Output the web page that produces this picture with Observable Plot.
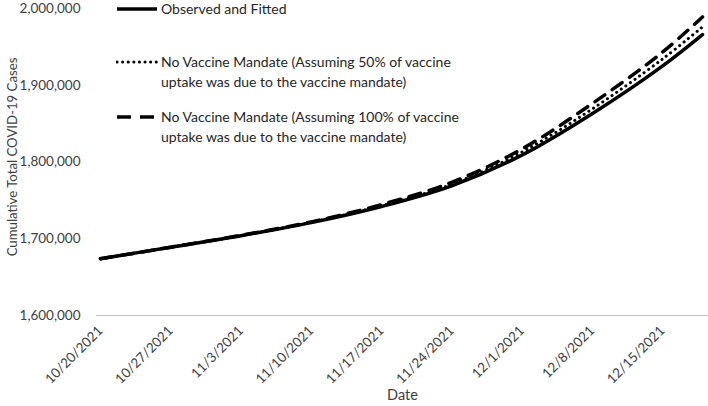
<!DOCTYPE html>
<html>
<head>
<meta charset="utf-8">
<script src="https://cdn.jsdelivr.net/npm/d3@7"></script>
<script src="https://cdn.jsdelivr.net/npm/@observablehq/plot@0.6"></script>
<style>
  html, body { margin: 0; padding: 0; background: #fff; }
  #wrap { position: relative; width: 708px; height: 406px; font-family: Lato, "Open Sans", sans-serif; }
  #legend { position: absolute; left: 116px; top: 0px; font-size: 14px; color: #262626; line-height: 20px; }
  .item { position: absolute; left: 0; display: flex; align-items: flex-start; white-space: nowrap; }
  .item svg { flex: none; margin-right: 3px; }
  #ylabel { position: absolute; left: 12px; top: 157px; transform: translate(-50%, -50%) rotate(-90deg); white-space: nowrap; font-size: 13.2px; color: #404040; }
</style>
</head>
<body>
<div id="wrap"><div id="legend"></div><div id="ylabel"></div></div>
<script>
// Data
const dates = ["2021-10-20","2021-10-27","2021-11-03","2021-11-10","2021-11-17","2021-11-24","2021-12-01","2021-12-08","2021-12-15","2021-12-19"];
const observed     = [1674000,1689000,1704000,1721000,1742000,1769000,1809000,1863000,1925000,1966000];
const noMandate50  = [1674000,1689000,1704000,1721500,1743000,1771000,1813000,1869000,1934000,1976000];
const noMandate100 = [1674000,1689000,1704500,1722000,1744500,1773500,1817000,1876000,1943000,1989000];
const seriesNames = [
  "Observed and Fitted",
  "No Vaccine Mandate (Assuming 50% of vaccine uptake was due to the vaccine mandate)",
  "No Vaccine Mandate (Assuming 100% of vaccine uptake was due to the vaccine mandate)"
];
const xTicks = ["2021-10-20","2021-10-27","2021-11-03","2021-11-10","2021-11-17","2021-11-24","2021-12-01","2021-12-08","2021-12-15"];
const yTicks = [1600000,1700000,1800000,1900000,2000000];
const yTitle = "Cumulative Total COVID-19 Cases";
const xTitle = "Date";

const parse = d3.utcParse("%Y-%m-%d");
const rows = (vals, s) => dates.map((d, i) => ({date: parse(d), value: vals[i], series: s}));
const obs = rows(observed, seriesNames[0]);
const m50 = rows(noMandate50, seriesNames[1]);
const m100 = rows(noMandate100, seriesNames[2]);

const chart = Plot.plot({
  width: 708,
  height: 406,
  marginLeft: 96,
  marginRight: 0,
  marginTop: 8,
  marginBottom: 91,
  style: {fontFamily: "Lato, 'Open Sans', sans-serif", fontSize: "13.5px", color: "#404040", background: "#fff", overflow: "visible"},
  x: {
    type: "utc",
    domain: [parse(dates[0]), parse(dates[dates.length - 1])],
    insetLeft: 4,
    insetRight: 6,
    ticks: xTicks.map(parse),
    tickFormat: d3.utcFormat("%-m/%-d/%Y"),
    tickRotate: -45,
    tickSize: 0,
    tickPadding: 13,
    label: xTitle,
    labelAnchor: "center",
    labelArrow: "none",
    labelOffset: 84
  },
  y: {
    domain: [1600000, 2000000],
    ticks: yTicks,
    tickFormat: d3.format(","),
    tickSize: 0,
    tickPadding: 16,
    label: null
  },
  marks: [
    Plot.ruleY([1600000], {stroke: "#bfbfbf", strokeWidth: 1.2}),
    Plot.line(m100, {x: "date", y: "value", stroke: "#000", strokeWidth: 3.5, strokeDasharray: "12,9", curve: "catmull-rom"}),
    Plot.line(m50, {x: "date", y: "value", stroke: "#000", strokeWidth: 3, strokeLinecap: "round", strokeDasharray: "0.1,5.5", curve: "catmull-rom"}),
    Plot.line(obs, {x: "date", y: "value", stroke: "#000", strokeWidth: 3.5, curve: "catmull-rom"})
  ]
});
// enlarge the x-axis title a little
chart.querySelectorAll("g[aria-label='x-axis label'] text").forEach(t => t.style.fontSize = "14.5px");
document.getElementById("wrap").prepend(chart);
chart.style.position = "absolute";
chart.style.left = "0";
chart.style.top = "0";

document.getElementById("ylabel").textContent = yTitle;

// Legend (inside plot area, top left)
const legend = document.getElementById("legend");
const legendItems = [
  {lines: ["Observed and Fitted"], dash: null, width: 3.5, cap: "butt", top: -1},
  {lines: ["No Vaccine Mandate (Assuming 50% of vaccine", "uptake was due to the vaccine mandate)"], dash: "0.1,5.5", width: 3, cap: "round", top: 52},
  {lines: ["No Vaccine Mandate (Assuming 100% of vaccine", "uptake was due to the vaccine mandate)"], dash: "14,9", width: 3.5, cap: "butt", top: 107}
];
for (const it of legendItems) {
  const div = document.createElement("div");
  div.className = "item";
  div.style.top = it.top + "px";
  const svg = d3.create("svg").attr("width", 42).attr("height", 20);
  svg.append("line").attr("x1", 1).attr("x2", 41).attr("y1", 10).attr("y2", 10)
    .attr("stroke", "#000").attr("stroke-width", it.width)
    .attr("stroke-linecap", it.cap)
    .attr("stroke-dasharray", it.dash);
  div.appendChild(svg.node());
  const txt = document.createElement("div");
  txt.innerHTML = it.lines.join("<br>");
  div.appendChild(txt);
  legend.appendChild(div);
}
</script>
</body>
</html>
